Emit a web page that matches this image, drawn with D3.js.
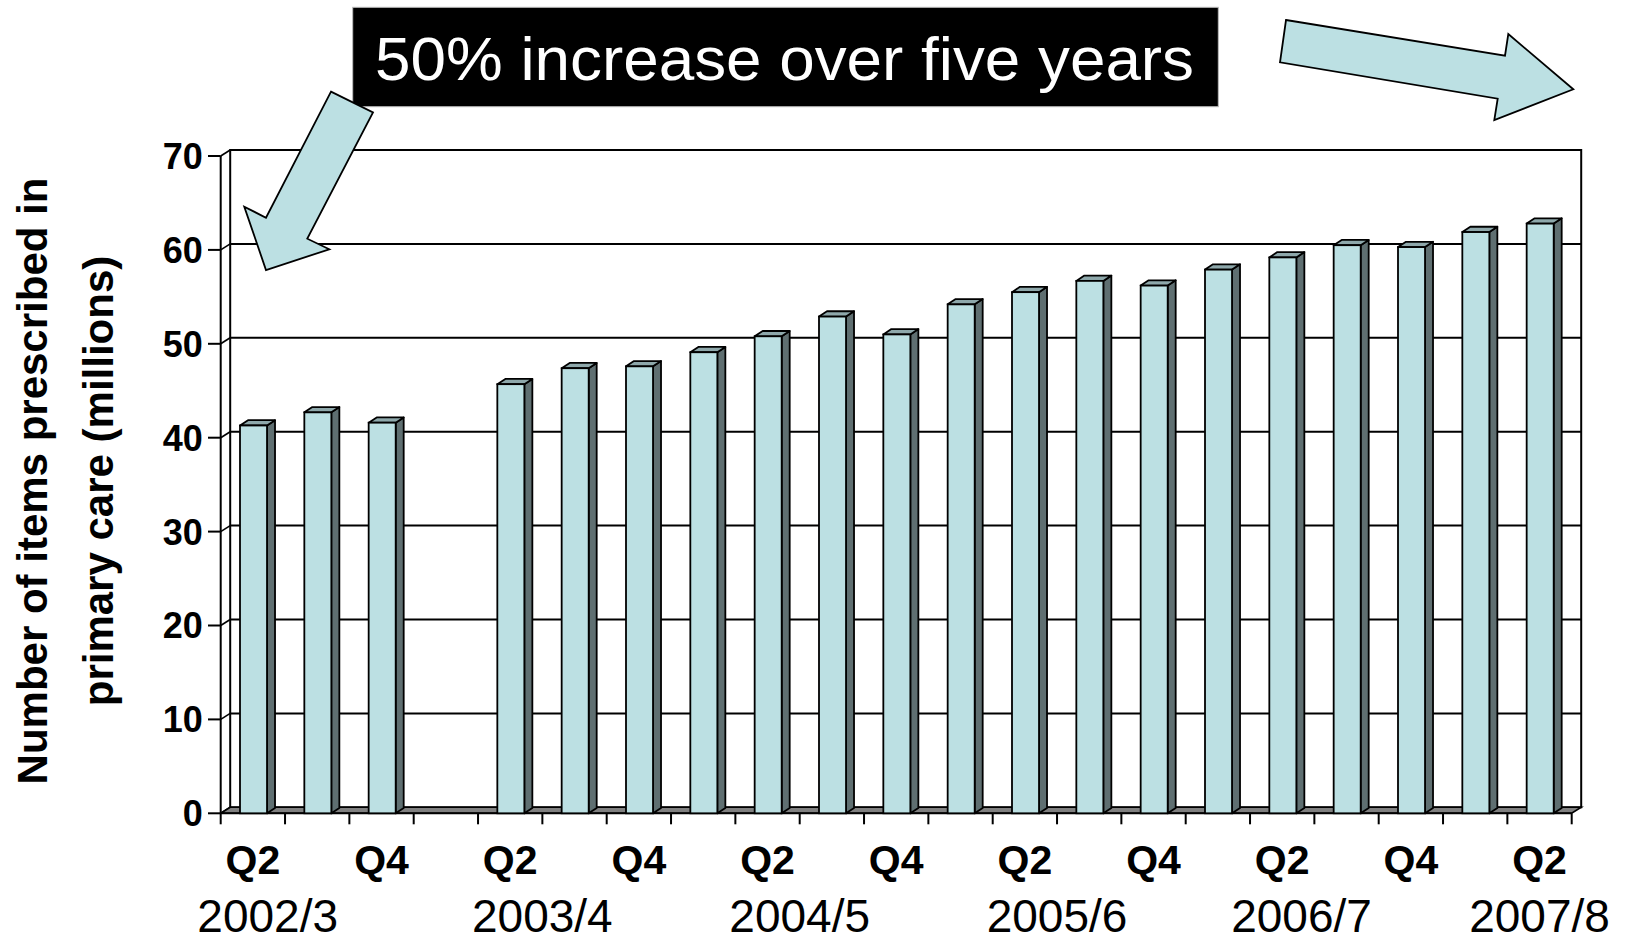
<!DOCTYPE html>
<html>
<head>
<meta charset="utf-8">
<script src="https://cdn.jsdelivr.net/npm/d3@7"></script>
<style>
  html, body { margin: 0; padding: 0; background: #ffffff; }
  svg { display: block; font-family: "Liberation Sans", Arial, sans-serif; }
</style>
</head>
<body>
<svg id="chart" width="1632" height="942"></svg>
<script>
// Quarterly prescription items in primary care (millions), 2002/3 Q2 to 2007/8 Q2
const quarters = [
  "Q2", "Q3", "Q4", "Q1",
  "Q2", "Q3", "Q4", "Q1",
  "Q2", "Q3", "Q4", "Q1",
  "Q2", "Q3", "Q4", "Q1",
  "Q2", "Q3", "Q4", "Q1",
  "Q2"
];
const items = [
  41.3, 42.7, 41.6, null,
  45.7, 47.4, 47.6, 49.1,
  50.8, 52.9, 51.0, 54.2,
  55.5, 56.7, 56.2, 57.9,
  59.2, 60.5, 60.3, 61.9,
  62.8
];
const years = ["2002/3", "2003/4", "2004/5", "2005/6", "2006/7", "2007/8"];
const quarterLabels = ["Q2", "Q4"];
const yTicks = [0, 10, 20, 30, 40, 50, 60, 70];
const titleText = "50% increase over five years";
const axisTitle = ["Number of items prescribed in", "primary care (millions)"];

// ---- layout ----
const svg = d3.select("#chart");
const plot = { left: 220.7, right: 1571.7, bottom: 813.3, top: 156 };
const depth = { dx: 9.5, dy: -6 };      // offset of back wall
const barDepth = { dx: 8, dy: -5.3 };   // offset of each column's back face
const yearAnchor = [0.73, 5.0, 9.0, 13.0, 16.8, 20.5]; // label centres in slot units

const colors = {
  front: "#bce0e3",
  side: "#5f6f71",
  top: "#8ea8ab",
  floor: "#808080",
  arrow: "#bce0e3"
};

const x = d3.scaleBand().domain(d3.range(quarters.length)).range([plot.left, plot.right]).padding(0);
const y = d3.scaleLinear().domain([0, 70]).range([plot.bottom, plot.top]);
const bw = x.bandwidth();
const slotX = s => plot.left + s * bw;

// ---- back wall ----
const wall = svg.append("g");
wall.append("rect")
  .attr("x", plot.left + depth.dx).attr("y", y(70) + depth.dy)
  .attr("width", plot.right - plot.left).attr("height", y(0) - y(70))
  .attr("fill", "#fff").attr("stroke", "#000").attr("stroke-width", 2);

// gridlines on back wall
wall.selectAll("line.grid").data(yTicks.slice(1)).join("line")
  .attr("x1", plot.left + depth.dx).attr("x2", plot.right + depth.dx)
  .attr("y1", d => y(d) + depth.dy).attr("y2", d => y(d) + depth.dy)
  .attr("stroke", "#000").attr("stroke-width", 2);

// left side wall: front edge and connectors
wall.append("line")
  .attr("x1", plot.left).attr("x2", plot.left)
  .attr("y1", y(70)).attr("y2", y(0))
  .attr("stroke", "#000").attr("stroke-width", 2);
wall.selectAll("line.side").data(yTicks).join("line")
  .attr("x1", plot.left).attr("y1", d => y(d))
  .attr("x2", plot.left + depth.dx).attr("y2", d => y(d) + depth.dy)
  .attr("stroke", "#000").attr("stroke-width", 1.6);

// floor
wall.append("path")
  .attr("d", `M${plot.left},${y(0)} L${plot.right},${y(0)} L${plot.right + depth.dx},${y(0) + depth.dy} L${plot.left + depth.dx},${y(0) + depth.dy} Z`)
  .attr("fill", colors.floor).attr("stroke", "#000").attr("stroke-width", 1.6);

// ---- axes ----
const yAxis = svg.append("g");
yAxis.selectAll("line").data(yTicks).join("line")
  .attr("x1", plot.left - 12.7).attr("x2", plot.left)
  .attr("y1", d => y(d)).attr("y2", d => y(d))
  .attr("stroke", "#000").attr("stroke-width", 2);
yAxis.selectAll("text").data(yTicks).join("text")
  .attr("x", plot.left - 18).attr("y", d => y(d))
  .attr("dy", "0.36em")
  .attr("text-anchor", "end")
  .attr("font-weight", "bold").attr("font-size", 36)
  .text(d => d);

const xAxis = svg.append("g");
xAxis.append("line")
  .attr("x1", plot.left).attr("x2", plot.right)
  .attr("y1", y(0)).attr("y2", y(0))
  .attr("stroke", "#000").attr("stroke-width", 2);
xAxis.selectAll("line.tick").data(d3.range(quarters.length + 1)).join("line")
  .attr("class", "tick")
  .attr("x1", d => slotX(d)).attr("x2", d => slotX(d))
  .attr("y1", y(0)).attr("y2", y(0) + 11)
  .attr("stroke", "#000").attr("stroke-width", 2);
xAxis.selectAll("text.q")
  .data(quarters.map((q, i) => ({ q, i })).filter(d => quarterLabels.includes(d.q)))
  .join("text")
  .attr("class", "q")
  .attr("x", d => x(d.i) + bw / 2).attr("y", 873.5)
  .attr("text-anchor", "middle")
  .attr("font-weight", "bold").attr("font-size", 41)
  .text(d => d.q);
xAxis.selectAll("text.yr").data(years).join("text")
  .attr("class", "yr")
  .attr("x", (d, i) => slotX(yearAnchor[i])).attr("y", 932)
  .attr("text-anchor", "middle")
  .attr("font-size", 46)
  .text(d => d);

// ---- columns ----
const bars = svg.append("g")
  .selectAll("g.bar")
  .data(items.map((v, i) => ({ v, i })).filter(d => d.v != null))
  .join("g").attr("class", "bar");

bars.each(function (d) {
  const g = d3.select(this);
  const x0 = x(d.i) + bw * 0.30;
  const x1 = x0 + bw * 0.42;
  const yt = y(d.v), yb = y(0);
  const { dx, dy } = barDepth;
  // side face
  g.append("path")
    .attr("d", `M${x1},${yt} L${x1 + dx},${yt + dy} L${x1 + dx},${yb + dy} L${x1},${yb} Z`)
    .attr("fill", colors.side).attr("stroke", "#000").attr("stroke-width", 1.8).attr("stroke-linejoin", "round");
  // top face
  g.append("path")
    .attr("d", `M${x0},${yt} L${x0 + dx},${yt + dy} L${x1 + dx},${yt + dy} L${x1},${yt} Z`)
    .attr("fill", colors.top).attr("stroke", "#000").attr("stroke-width", 1.8).attr("stroke-linejoin", "round");
  // front face
  g.append("rect")
    .attr("x", x0).attr("y", yt).attr("width", x1 - x0).attr("height", yb - yt)
    .attr("fill", colors.front).attr("stroke", "#000").attr("stroke-width", 1.8);
});

// ---- axis title ----
const at = svg.append("text")
  .attr("transform", "translate(0,481) rotate(-90)")
  .attr("text-anchor", "middle")
  .attr("font-weight", "bold").attr("font-size", 42);
at.append("tspan").attr("x", 0).attr("y", 47).text(axisTitle[0]);
at.append("tspan").attr("x", 0).attr("y", 113).text(axisTitle[1]);

// ---- annotation ----
const note = svg.append("g");
note.append("rect")
  .attr("x", 352.7).attr("y", 7.3).attr("width", 865.6).attr("height", 99.4)
  .attr("fill", "#000").attr("stroke", "#bbbbbb").attr("stroke-width", 1);
note.append("text")
  .attr("x", 375).attr("y", 80)
  .attr("fill", "#fff").attr("font-size", 61)
  .attr("textLength", 819).attr("lengthAdjust", "spacingAndGlyphs")
  .text(titleText);

const arrowLeft = [[331, 91.6], [373, 112.5], [307.3, 238.7], [329.3, 249.3], [266, 270], [244.3, 206.7], [266, 217.7]];
const arrowRight = [[1286, 20], [1505, 55.7], [1508.3, 34], [1573.3, 89.3], [1494.3, 120], [1497.7, 98.7], [1280, 62.3]];
note.selectAll("path.arrow").data([arrowLeft, arrowRight]).join("path")
  .attr("class", "arrow")
  .attr("d", d => d3.line()(d) + "Z")
  .attr("fill", colors.arrow).attr("stroke", "#000").attr("stroke-width", 1.8).attr("stroke-linejoin", "miter");
</script>
</body>
</html>
